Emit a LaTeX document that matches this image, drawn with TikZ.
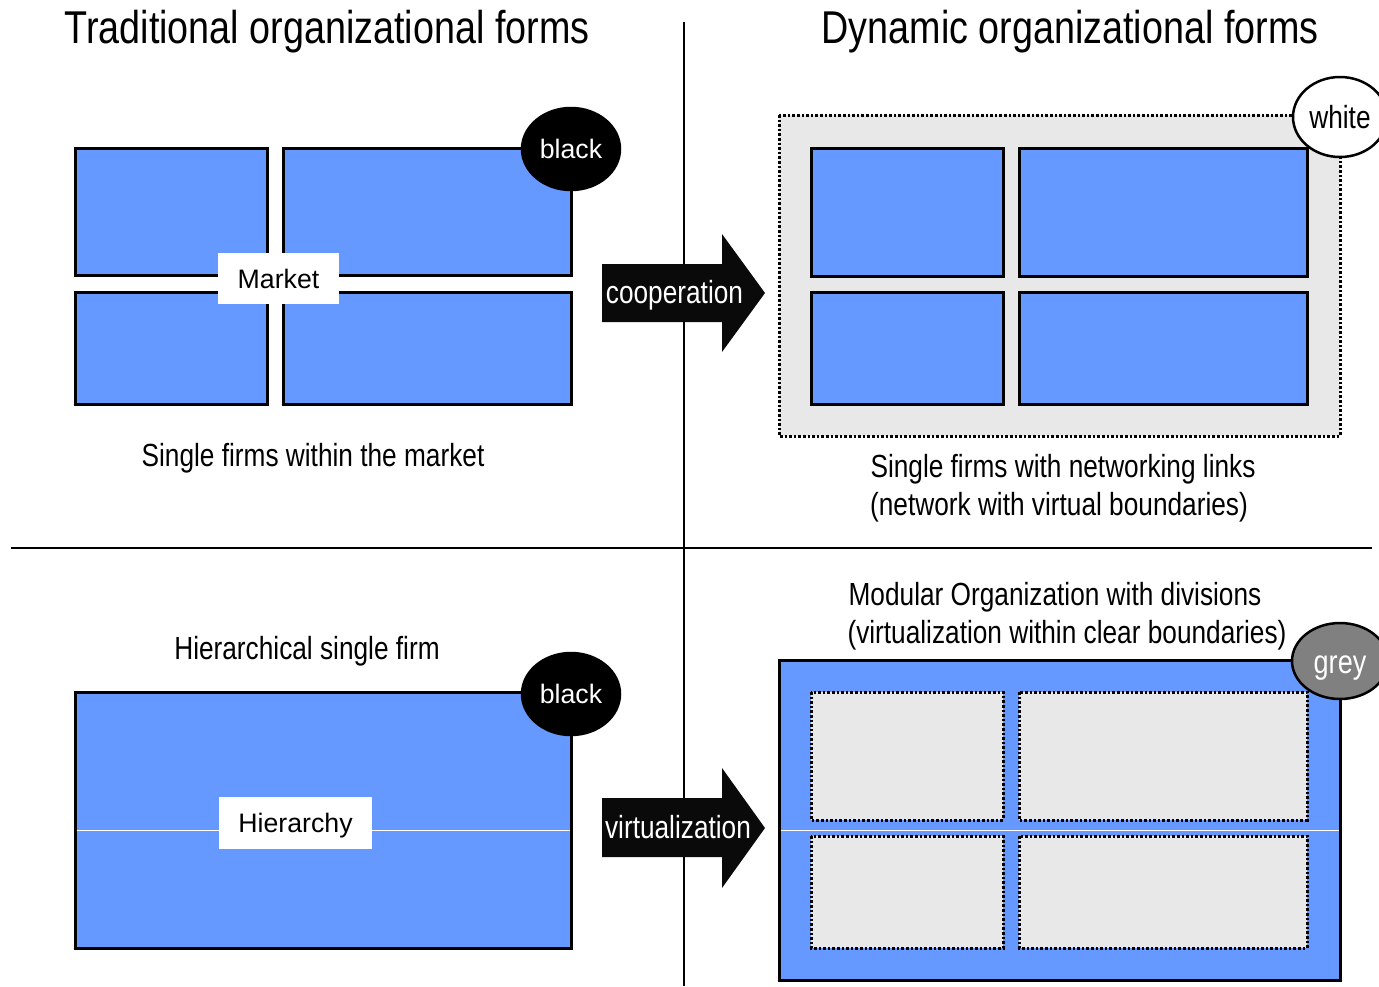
\documentclass[tikz,border=0pt]{standalone}
\usepackage{fontspec}
\setmainfont{Liberation Sans}
\newfontfamily\narrowfont[FakeStretch=0.82]{Liberation Sans}
\usetikzlibrary{shapes.geometric}
\definecolor{firmblue}{RGB}{102,153,255}
\definecolor{netgrey}{RGB}{232,232,232}
\definecolor{badgegrey}{RGB}{128,128,128}
\tikzset{
  firm/.style={draw=black, line width=3pt, fill=firmblue},
  virtbox/.style={draw=black, line width=3pt, dash pattern=on 2.6pt off 2pt, fill=netgrey},
  divider/.style={draw=black, line width=2.8pt},
  title/.style={font=\narrowfont\fontsize{46}{50}\selectfont, anchor=base},
  caption/.style={font=\narrowfont\fontsize{32}{38}\selectfont, anchor=base, align=center},
  tag/.style={fill=white, inner sep=0pt, text height=19pt, text depth=0pt,
    font=\fontsize{26.7}{30}\selectfont},
  badge/.style={ellipse, draw=black, line width=2.5pt, inner sep=0pt},
  blackbadge/.style={badge, fill=black, text=white, minimum width=98pt, minimum height=82pt,
    text height=19pt, text depth=0pt, font=\fontsize{26.7}{30}\selectfont},
  bigarrow/.style={fill=black!96},
  arrowtext/.style={text=white, font=\narrowfont\fontsize{32}{36}\selectfont, anchor=base},
}
\begin{document}
\begin{tikzpicture}[x=1pt,y=-1pt]
\useasboundingbox (0,0) rectangle (1379,986);

% quadrant dividers
\draw[divider] (684,22) -- (684,986);
\draw[divider] (11,548) -- (1372,548);

% headings
\node[title] (tradtitle) at (327,43) {Traditional organizational forms};
\node[title] (dyntitle) at (1070,43) {Dynamic organizational forms};

% --- traditional: single firms within the market
\draw[firm] (75,148) rectangle (267,275);
\draw[firm] (283,148) rectangle (571,275);
\draw[firm] (75,292) rectangle (267,404);
\draw[firm] (283,292) rectangle (571,404);
\node[tag, minimum width=121pt, minimum height=51pt] (market) at (278.5,278.5) {Market};
\node[blackbadge] (blackA) at (571,149) {black};
\node[caption] (capA) at (313,466) {Single firms within the market};

% cooperation arrow
\fill[bigarrow] (602,264) -- (722,264) -- (722,234) -- (765,293) -- (722,352)
  -- (722,322) -- (602,322) -- cycle;
\node[arrowtext] (coop) at (674.5,303) {cooperation};

% --- dynamic: network with virtual boundaries
\draw[virtbox] (779,115) rectangle (1340,436);
\draw[firm] (811,148) rectangle (1003,276);
\draw[firm] (1019,148) rectangle (1307,276);
\draw[firm] (811,292) rectangle (1003,404);
\draw[firm] (1019,292) rectangle (1307,404);
\node[badge, fill=white, minimum width=94pt, minimum height=80pt,
      font=\narrowfont\fontsize{32}{36}\selectfont] (whitebadge) at (1340,117) {white};
\node[caption] (capB1) at (1063,477) {Single firms with networking links};
\node[caption] (capB2) at (1059,515) {(network with virtual boundaries)};

% --- traditional: hierarchical single firm
\node[caption] (capC) at (307,659) {Hierarchical single firm};
\draw[firm] (75,692) rectangle (571,948);
\draw[white, line width=1pt] (76.5,830) -- (569.5,830);
\node[tag, minimum width=153pt, minimum height=52pt] (hier) at (295.5,823) {Hierarchy};
\node[blackbadge] (blackB) at (571,694) {black};

% virtualization arrow
\fill[bigarrow] (602,798) -- (722,798) -- (722,768) -- (765,828) -- (722,888)
  -- (722,857) -- (602,857) -- cycle;
\node[arrowtext] (virt) at (678,838) {virtualization};

% --- dynamic: modular organization
\node[caption] (capD1) at (1055,605) {Modular Organization with divisions};
\node[caption] (capD2) at (1067,643) {(virtualization within clear boundaries)};
\draw[firm] (779,660) rectangle (1340,980);
\draw[virtbox] (811,692) rectangle (1003,820);
\draw[virtbox] (1019,692) rectangle (1307,820);
\draw[virtbox] (811,836) rectangle (1003,948);
\draw[virtbox] (1019,836) rectangle (1307,948);
\draw[white, line width=1pt] (780.5,830) -- (1338.5,830);
\node[badge, fill=badgegrey, text=white, minimum width=96pt, minimum height=76pt,
      text height=24pt, text depth=0pt,
      font=\narrowfont\fontsize{33}{36}\selectfont] (greybadge) at (1340,661) {grey};
\end{tikzpicture}
\end{document}
